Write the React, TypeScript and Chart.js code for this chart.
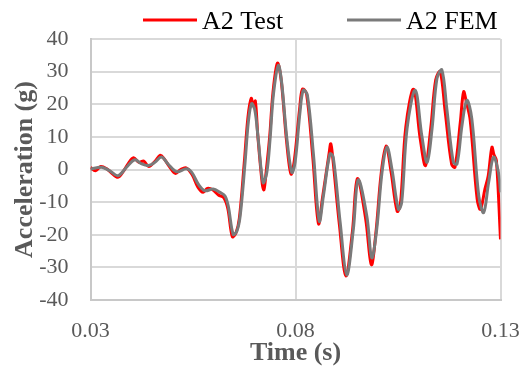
import { useEffect, useRef } from "react";
import { Chart, registerables } from "chart.js";

Chart.register(...registerables);

// Time axis ticks (s)
const xTicks = [0.03, 0.08, 0.13];

// Measured accelerometer A2 (g)
const testTime = [
  0.0300, 0.0312, 0.0325, 0.0340, 0.0350, 0.0367, 0.0380, 0.0392, 0.0405, 0.0418,
  0.0430, 0.0442, 0.0458, 0.0470, 0.0480, 0.0492, 0.0507, 0.0520, 0.0533, 0.0548,
  0.0562, 0.0575, 0.0585, 0.0598, 0.0612, 0.0625, 0.0635, 0.0646, 0.0655, 0.0663,
  0.0675, 0.0684, 0.0692, 0.0697, 0.0702, 0.0708, 0.0719, 0.0723, 0.0728, 0.0737,
  0.0745, 0.0756, 0.0765, 0.0778, 0.0789, 0.0797, 0.0810, 0.0817, 0.0827, 0.0842,
  0.0856, 0.0866, 0.0882, 0.0886, 0.0891, 0.0907, 0.0923, 0.0939, 0.0951, 0.0971,
  0.0985, 0.0996, 0.1009, 0.1021, 0.1033, 0.1048, 0.1056, 0.1069, 0.1088, 0.1104,
  0.1117, 0.1130, 0.1142, 0.1153, 0.1165, 0.1181, 0.1189, 0.1202, 0.1210, 0.1217,
  0.1226, 0.1243, 0.1251, 0.1262, 0.1270, 0.1279, 0.1284, 0.1290, 0.1300,
];
const testAccel = [
  0.6, -0.4, 0.9, 0.2, -0.9, -2.4, -0.6, 1.8, 3.6, 2.2,
  2.6, 0.9, 2.6, 4.4, 3.2, 1.0, -1.2, 0.0, 0.5, -1.6,
  -5.4, -7.0, -5.8, -6.2, -7.8, -8.6, -12.0, -20.6, -19.4, -15.0,
  2.0, 16.0, 21.8, 19.5, 21.0, 10.5, -4.5, -6.2, -1.2, 10.0,
  23.5, 32.6, 27.5, 9.0, -1.4, 2.6, 18.5, 24.6, 23.2, 4.0,
  -16.6, -8.6, 5.0, 7.9, 3.4, -16.8, -32.6, -18.8, -2.8, -15.0,
  -29.2, -19.5, -1.2, 7.2, -0.6, -12.8, -10.5, 13.0, 24.6, 9.6,
  1.2, 12.8, 27.5, 30.0, 17.8, 1.5, 0.7, 14.5, 23.8, 20.5,
  15.2, -9.0, -12.2, -6.0, -2.0, 6.8, 4.5, 2.8, -21.4,
];

// Finite element model A2 (g)
const femTime = [
  0.0300, 0.0327, 0.0347, 0.0367, 0.0388, 0.0408, 0.0425, 0.0441, 0.0457, 0.0473,
  0.0489, 0.0510, 0.0534, 0.0547, 0.0563, 0.0579, 0.0599, 0.0616, 0.0628, 0.0636,
  0.0648, 0.0657, 0.0665, 0.0677, 0.0685, 0.0693, 0.0701, 0.0709, 0.0721, 0.0730,
  0.0738, 0.0746, 0.0758, 0.0766, 0.0779, 0.0791, 0.0799, 0.0811, 0.0819, 0.0829,
  0.0844, 0.0858, 0.0868, 0.0884, 0.0892, 0.0909, 0.0925, 0.0941, 0.0953, 0.0974,
  0.0986, 0.0998, 0.1011, 0.1023, 0.1035, 0.1051, 0.1059, 0.1072, 0.1092, 0.1108,
  0.1121, 0.1133, 0.1145, 0.1157, 0.1169, 0.1185, 0.1194, 0.1206, 0.1218, 0.1230,
  0.1247, 0.1259, 0.1271, 0.1283, 0.1295, 0.1300,
];
const femAccel = [
  0.1, 0.7, -0.4, -1.9, 0.7, 3.0, 1.7, 1.2, 2.2, 3.8,
  1.7, -0.7, 0.2, -0.9, -4.5, -6.5, -6.0, -7.0, -8.1, -11.2,
  -19.9, -18.9, -14.3, 2.2, 14.6, 20.2, 18.1, 9.4, -4.0, -0.9,
  9.4, 22.8, 31.9, 26.9, 9.4, -0.9, 2.2, 17.7, 24.3, 22.8,
  4.3, -15.8, -8.1, 4.8, 3.8, -16.3, -32.3, -18.4, -3.2, -14.3,
  -27.1, -18.4, -0.9, 6.9, 0.2, -12.2, -10.1, 12.5, 24.3, 10.4,
  2.2, 12.5, 27.9, 30.5, 18.7, 2.2, 1.7, 13.5, 21.2, 15.6,
  -8.1, -13.2, -4.0, 3.8, -0.9, -7.0,
];

const seriesLabels = ["A2 Test", "A2 FEM"];
const seriesColors = ["#FF0000", "#7A7A7A"];

const SERIF = "'Liberation Serif', 'Times New Roman', serif";
const AXIS_TEXT = "#595959";
const GRID = "#D9D9D9";

const toPoints = (t: number[], v: number[]) => t.map((x, i) => ({ x, y: v[i] }));

// Legend drawn as a short line sample followed by the series name
const lineLegend = {
  id: "lineLegend",
  afterDraw(chart: any) {
    const ctx = chart.ctx as CanvasRenderingContext2D;
    const starts = [143, 347];
    ctx.save();
    chart.data.datasets.forEach((ds: any, i: number) => {
      const x0 = starts[i];
      ctx.beginPath();
      ctx.strokeStyle = ds.borderColor;
      ctx.lineWidth = 3;
      ctx.moveTo(x0, 20);
      ctx.lineTo(x0 + 54, 20);
      ctx.stroke();
      ctx.font = `26px ${SERIF}`;
      ctx.fillStyle = "#000000";
      ctx.textBaseline = "alphabetic";
      ctx.textAlign = "left";
      ctx.fillText(ds.label, x0 + 59, 28.5);
    });
    ctx.restore();
  },
};

export default function App() {
  const canvasRef = useRef<HTMLCanvasElement | null>(null);

  useEffect(() => {
    if (!canvasRef.current) return;
    const chart = new Chart(canvasRef.current, {
      type: "line",
      data: {
        datasets: [
          {
            label: seriesLabels[0],
            data: toPoints(testTime, testAccel),
            borderColor: seriesColors[0],
            backgroundColor: seriesColors[0],
            borderWidth: 3,
            pointRadius: 0,
            tension: 0.35,
            order: 1,
          },
          {
            label: seriesLabels[1],
            data: toPoints(femTime, femAccel),
            borderColor: seriesColors[1],
            backgroundColor: seriesColors[1],
            borderWidth: 3,
            pointRadius: 0,
            tension: 0.35,
            order: 0,
          },
        ],
      },
      options: {
        animation: false,
        responsive: false,
        maintainAspectRatio: false,
        layout: { padding: { top: 39, right: 21.5, left: 0, bottom: 0 } },
        plugins: {
          legend: { display: false },
          tooltip: { enabled: false },
        },
        scales: {
          x: {
            type: "linear",
            min: xTicks[0],
            max: xTicks[xTicks.length - 1],
            afterBuildTicks: (scale: any) => {
              scale.ticks = xTicks.map((value) => ({ value }));
            },
            afterFit: (scale: any) => {
              scale.height = 71;
              scale.paddingLeft = 0;
              scale.paddingRight = 0;
            },
            grid: { color: GRID, lineWidth: 2, drawTicks: false },
            border: { color: "#C8C8C8", width: 2 },
            ticks: {
              padding: 18,
              color: AXIS_TEXT,
              font: { family: SERIF, size: 22 },
              maxRotation: 0,
              callback: (v: any) => Number(v).toFixed(2),
            },
            title: {
              display: true,
              text: "Time (s)",
              color: AXIS_TEXT,
              font: { family: SERIF, size: 26, weight: "bold" },
              padding: { top: 0, bottom: 2 },
            },
          },
          y: {
            min: -40,
            max: 40,
            afterFit: (scale: any) => {
              scale.width = 90.5;
              scale.paddingTop = 0;
              scale.paddingBottom = 0;
            },
            grid: { color: GRID, lineWidth: 2, drawTicks: false },
            border: { color: "#C8C8C8", width: 2 },
            ticks: {
              stepSize: 10,
              padding: 22,
              color: AXIS_TEXT,
              font: { family: SERIF, size: 22 },
            },
            title: {
              display: true,
              text: "Acceleration (g)",
              color: AXIS_TEXT,
              font: { family: SERIF, size: 26, weight: "bold" },
              padding: { top: 10, bottom: 0 },
            },
          },
        },
      },
      plugins: [lineLegend],
    });
    return () => chart.destroy();
  }, []);

  return (
    <div style={{ position: "fixed", left: 0, top: 0, width: 522, height: 371, background: "#fff" }}>
      <canvas ref={canvasRef} width={522} height={371} style={{ display: "block" }} />
    </div>
  );
}
